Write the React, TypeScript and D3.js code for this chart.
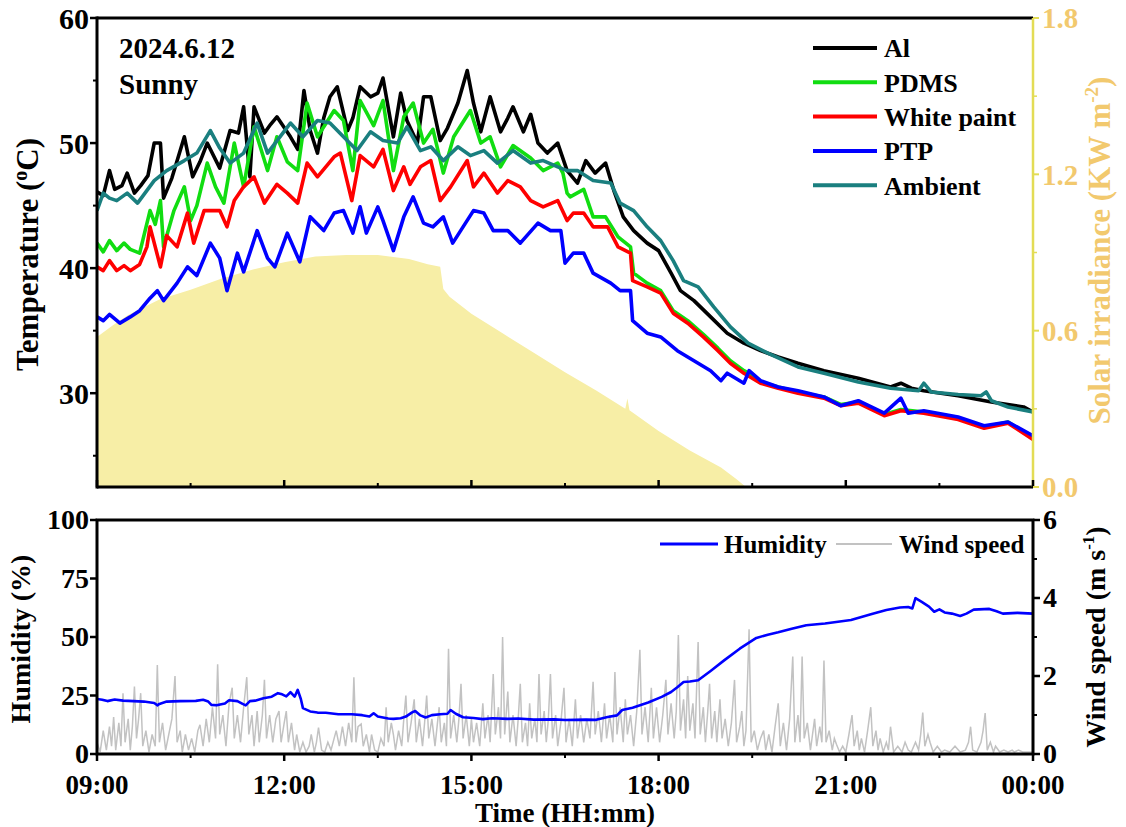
import React from 'react';
import * as d3 from 'd3';

// ---------- data (time = minutes after 09:00) ----------
const tickLabels = ['09:00', '12:00', '15:00', '18:00', '21:00', '00:00'];
const tickMinutes = [0, 180, 360, 540, 720, 900];
const minorMinutes = [90, 270, 450, 630, 810];
const tempTicks = [30, 40, 50, 60];
const tempMinor = [25, 35, 45, 55];
const solarTicks = [0, 0.6, 1.2, 1.8];
const solarMinor = [0.3, 0.9, 1.5];
const humTicks = [0, 25, 50, 75, 100];
const windTicks = [0, 2, 4, 6];
const windMinor = [1, 3, 5];

const seriesNames = ['Al', 'PDMS', 'White paint', 'PTP', 'Ambient'];
const seriesColors = ['#000000', '#11dd11', '#ff0000', '#0000ff', '#1a7f7f'];

const al: [number, number][] = [
  [0, 46.1], [6, 45.8], [12, 47.8], [17, 46.3], [24, 46.6], [29, 47.6], [36, 46.0], [42, 46.6], [49, 47.4],
  [55, 50.0], [61, 50.0], [64, 45.6], [72, 47.2], [84, 50.5], [92, 47.3], [99, 48.5], [106, 50.0], [118, 48.0],
  [128, 51.0], [136, 50.8], [141, 52.9], [147, 47.3], [151, 52.9], [161, 50.8], [167, 51.5], [173, 52.1],
  [186, 50.5], [193, 49.5], [199, 54.2], [205, 51.0], [212, 49.2], [218, 52.0], [224, 53.7], [231, 54.5],
  [241, 51.0], [246, 52.0], [253, 54.5], [263, 53.7], [270, 54.0], [275, 55.2], [285, 50.5], [292, 54.0],
  [298, 51.8], [308, 50.0], [314, 53.7], [321, 53.7], [330, 50.2], [337, 51.2], [347, 53.2], [356, 55.8],
  [362, 53.2], [369, 50.9], [378, 53.7], [388, 50.9], [395, 52.0], [400, 52.9], [410, 50.9], [417, 52.3],
  [424, 50.0], [433, 49.2], [443, 50.0], [452, 47.8], [462, 46.8], [470, 48.6], [479, 47.6], [489, 48.4],
  [497, 46.2], [506, 44.1], [516, 43.0], [529, 42.0], [540, 41.4], [552, 39.6], [561, 38.2], [574, 37.4],
  [590, 36.1], [606, 34.8], [622, 34.0], [638, 33.4], [655, 32.9], [674, 32.4], [699, 31.8], [732, 31.2],
  [763, 30.5], [773, 30.8], [783, 30.4], [795, 30.2], [828, 29.8], [860, 29.3], [891, 28.9], [900, 28.5],
];

const pdms: [number, number][] = [
  [0, 42.0], [6, 41.3], [12, 42.2], [19, 41.4], [26, 42.0], [32, 41.5], [41, 41.2], [51, 44.6], [56, 43.5],
  [61, 45.4], [64, 41.7], [74, 44.6], [84, 46.5], [90, 43.8], [96, 45.0], [106, 48.4], [114, 46.5],
  [122, 45.2], [132, 50.0], [141, 46.5], [151, 51.3], [164, 47.8], [173, 50.5], [183, 48.5], [193, 47.8],
  [202, 53.2], [212, 50.5], [228, 52.6], [237, 51.8], [246, 47.8], [253, 53.4], [266, 51.4], [275, 53.4],
  [285, 47.8], [295, 52.1], [304, 53.2], [314, 50.0], [323, 51.1], [333, 47.6], [343, 50.5], [359, 52.6],
  [369, 50.0], [378, 50.5], [388, 48.1], [400, 49.8], [417, 48.8], [429, 47.8], [443, 48.4], [448, 47.6],
  [452, 46.0], [455, 45.7], [468, 46.3], [477, 44.1], [489, 44.1], [501, 42.5], [513, 41.7], [516, 39.6],
  [529, 38.8], [542, 38.2], [554, 36.6], [568, 35.8], [583, 34.7], [597, 33.6], [609, 32.6], [622, 31.8],
  [629, 31.5], [638, 30.9], [655, 30.5], [674, 30.1], [699, 29.7], [715, 29.1], [732, 29.3], [757, 28.3],
  [773, 28.7], [795, 28.5], [828, 28.0], [853, 27.3], [876, 27.7], [900, 26.4],
];

const whitePaint: [number, number][] = [
  [0, 40.1], [6, 39.8], [12, 40.6], [19, 39.8], [26, 40.2], [32, 39.8], [41, 40.3], [48, 41.7], [51, 43.3],
  [61, 40.1], [67, 42.6], [77, 41.7], [87, 44.4], [93, 42.0], [103, 44.6], [118, 44.6], [125, 43.3],
  [132, 45.4], [141, 46.5], [151, 47.3], [161, 45.2], [173, 46.7], [183, 46.0], [193, 45.2], [202, 48.4],
  [212, 47.3], [228, 48.9], [234, 49.2], [245, 45.4], [253, 49.0], [266, 48.1], [275, 49.5], [285, 46.2],
  [295, 48.1], [301, 46.7], [311, 48.1], [321, 48.6], [330, 45.4], [340, 46.5], [356, 48.6], [362, 46.5],
  [372, 47.6], [385, 46.0], [395, 47.0], [407, 46.5], [417, 45.4], [429, 44.9], [443, 45.4], [452, 43.8],
  [458, 44.4], [468, 44.4], [477, 43.3], [491, 43.3], [501, 41.7], [513, 41.2], [515, 39.0], [529, 38.5],
  [542, 38.0], [554, 36.4], [568, 35.6], [583, 34.5], [597, 33.4], [609, 32.4], [622, 31.6], [638, 30.8],
  [655, 30.4], [674, 30.0], [699, 29.6], [715, 29.0], [732, 29.2], [757, 28.2], [773, 28.6], [795, 28.4],
  [828, 27.9], [853, 27.2], [876, 27.6], [900, 26.3],
];

const ptp: [number, number][] = [
  [0, 36.1], [6, 35.8], [12, 36.3], [22, 35.6], [32, 36.1], [41, 36.6], [51, 37.6], [58, 38.2], [64, 37.4],
  [77, 38.8], [87, 40.1], [96, 39.4], [109, 42.0], [118, 40.8], [125, 38.2], [135, 41.2], [141, 39.7],
  [154, 43.0], [164, 40.8], [171, 40.1], [183, 42.8], [195, 40.5], [205, 44.1], [218, 43.0], [228, 44.4],
  [237, 44.6], [246, 42.8], [253, 44.9], [259, 42.8], [270, 44.9], [275, 43.8], [285, 41.4], [295, 44.1],
  [304, 45.7], [314, 43.6], [323, 43.3], [333, 44.1], [342, 42.0], [352, 43.3], [362, 44.6], [372, 44.4],
  [381, 43.0], [395, 43.0], [407, 42.0], [424, 43.6], [436, 43.0], [446, 43.0], [450, 40.4], [458, 41.2],
  [468, 41.2], [477, 39.6], [494, 38.8], [503, 38.2], [513, 38.2], [515, 35.8], [529, 34.8], [542, 34.5],
  [558, 33.4], [574, 32.6], [590, 31.8], [600, 31.0], [606, 31.6], [622, 30.8], [627, 31.8], [638, 31.0],
  [655, 30.5], [674, 30.2], [699, 29.7], [715, 29.0], [732, 29.4], [757, 28.4], [773, 29.6], [780, 28.4],
  [795, 28.6], [828, 28.1], [853, 27.4], [876, 27.7], [900, 26.6],
];

const ambient: [number, number][] = [
  [0, 44.6], [6, 46.0], [12, 45.6], [19, 45.4], [29, 46.0], [39, 45.2], [55, 47.0], [67, 47.8], [84, 48.6],
  [96, 49.2], [109, 51.0], [118, 49.6], [128, 48.4], [141, 49.2], [154, 51.6], [164, 49.2], [186, 51.6],
  [198, 50.5], [212, 51.8], [224, 51.6], [237, 50.5], [250, 49.4], [263, 50.9], [275, 50.2], [289, 50.0],
  [298, 51.3], [311, 49.4], [321, 49.7], [333, 48.6], [347, 49.7], [359, 49.0], [372, 49.4], [385, 48.4],
  [400, 49.4], [417, 48.4], [429, 48.6], [443, 48.1], [452, 47.8], [462, 47.8], [477, 47.0], [494, 46.8],
  [503, 45.2], [516, 44.6], [529, 43.3], [542, 42.2], [554, 40.6], [564, 39.0], [578, 38.5], [593, 36.9],
  [609, 35.3], [626, 34.0], [645, 33.2], [674, 32.1], [699, 31.6], [732, 30.9], [763, 30.4], [790, 30.2],
  [795, 30.8], [802, 30.1], [828, 29.9], [850, 29.8], [855, 30.1], [860, 29.4], [876, 28.9], [900, 28.5],
];

const solar: [number, number][] = [
  [0, 0.576], [15, 0.62], [30, 0.66], [45, 0.69], [60, 0.72], [90, 0.757], [120, 0.8], [150, 0.835],
  [180, 0.863], [210, 0.885], [240, 0.89], [270, 0.89], [300, 0.875], [318, 0.855], [330, 0.845],
  [333, 0.76], [339, 0.73], [360, 0.665], [390, 0.59], [420, 0.515], [450, 0.44], [480, 0.37],
  [508, 0.3], [510, 0.34], [512, 0.295], [540, 0.215], [570, 0.14], [600, 0.075], [615, 0.03], [624, 0.0],
  [900, 0.0],
];

const humidity: [number, number][] = [
  [0, 23.5], [5, 23.2], [10, 22.6], [17, 23.3], [25, 22.8], [35, 22.6], [45, 22.4], [55, 21.8], [58, 20.8],
  [60, 21.4], [67, 22.4], [80, 22.6], [95, 22.7], [102, 23.2], [107, 22.4], [110, 21.0], [115, 20.8],
  [123, 21.6], [127, 23.0], [135, 22.6], [140, 21.4], [143, 20.8], [147, 22.6], [152, 22.8], [160, 23.8],
  [168, 24.5], [174, 26.0], [178, 25.5], [182, 24.6], [186, 26.4], [190, 24.5], [193, 27.4], [196, 23.5],
  [198, 19.6], [205, 18.2], [212, 17.7], [220, 17.6], [232, 17.0], [245, 17.0], [255, 16.6], [262, 16.0],
  [266, 17.4], [270, 16.0], [280, 15.2], [285, 15.0], [292, 15.3], [297, 16.0], [303, 17.8], [306, 18.4],
  [311, 16.5], [316, 15.6], [322, 16.6], [330, 17.0], [337, 17.2], [340, 18.8], [345, 17.2], [352, 15.7],
  [362, 15.4], [371, 14.9], [380, 15.3], [395, 15.0], [405, 15.2], [420, 14.7], [440, 14.8], [450, 14.5],
  [470, 14.7], [480, 14.6], [491, 15.8], [500, 16.5], [505, 18.8], [515, 19.8], [530, 22.0], [543, 24.4],
  [552, 26.5], [558, 28.5], [564, 30.8], [570, 31.0], [578, 31.5], [590, 35.5], [603, 40.0], [618, 45.0],
  [634, 49.6], [645, 51.0], [655, 52.0], [668, 53.5], [682, 55.0], [700, 55.8], [725, 57.3], [745, 59.8],
  [759, 61.5], [772, 62.6], [780, 62.8], [784, 62.2], [787, 66.6], [793, 65.0], [800, 63.0], [805, 60.8],
  [810, 61.8], [815, 60.5], [822, 60.0], [830, 59.0], [836, 60.0], [843, 61.7], [858, 62.0], [865, 61.0],
  [871, 60.0], [885, 60.3], [900, 60.0],
];

const windSpeed: [number, number][] = [
  [0, 0.3], [3, 0.05], [6, 0.6], [9, 0.1], [12, 0.7], [14, 0.2], [16, 0.95], [18, 0.1], [21, 0.8], [23, 0.2],
  [25, 1.56], [27, 0.3], [30, 0.9], [32, 0.1], [34, 0.7], [36, 1.73], [38, 0.4], [40, 0.9], [42, 1.56],
  [44, 0.2], [47, 0.6], [50, 0.05], [53, 0.5], [56, 0.2], [58, 2.28], [60, 0.3], [63, 0.8], [66, 0.1],
  [69, 0.5], [72, 0.9], [75, 2.0], [77, 0.3], [80, 0.6], [82, 0.05], [85, 0.5], [88, 0.1], [91, 0.4],
  [94, 0.05], [97, 0.6], [99, 0.75], [102, 0.2], [105, 0.9], [108, 0.3], [111, 1.2], [114, 0.4], [116, 2.3],
  [118, 0.5], [121, 1.0], [124, 0.2], [127, 1.3], [130, 1.7], [132, 0.4], [135, 1.0], [138, 0.3], [141, 1.2],
  [144, 1.97], [146, 0.5], [149, 1.0], [151, 0.2], [154, 1.1], [156, 0.3], [159, 1.0], [161, 1.9], [163, 0.4],
  [166, 1.0], [169, 0.3], [172, 0.9], [175, 1.1], [177, 0.3], [180, 0.8], [182, 1.1], [184, 0.3], [187, 0.8],
  [190, 0.1], [192, 0.5], [195, 0.05], [198, 0.3], [201, 0.05], [204, 0.2], [206, 0.5], [209, 0.05],
  [211, 0.3], [213, 0.68], [216, 0.1], [219, 0.05], [222, 0.3], [225, 0.1], [228, 0.4], [230, 0.6],
  [233, 0.2], [236, 0.7], [239, 0.2], [242, 0.8], [245, 0.3], [247, 1.97], [249, 0.3], [251, 0.7],
  [254, 0.77], [256, 0.2], [259, 0.5], [262, 0.05], [264, 0.5], [267, 0.1], [270, 0.05], [273, 0.4],
  [276, 0.2], [278, 1.2], [280, 0.3], [283, 0.8], [285, 0.5], [287, 0.1], [290, 0.6], [293, 0.2], [295, 0.9],
  [297, 1.5], [299, 0.3], [302, 0.8], [305, 1.4], [307, 0.3], [310, 0.9], [313, 0.2], [315, 0.8], [317, 1.5],
  [319, 0.4], [322, 0.9], [325, 0.2], [327, 0.7], [329, 1.2], [331, 0.3], [334, 0.8], [336, 0.2], [338, 2.7],
  [340, 0.4], [343, 1.0], [346, 0.3], [348, 0.9], [350, 1.8], [352, 0.4], [355, 1.0], [358, 0.2], [360, 0.9],
  [362, 0.3], [365, 0.8], [368, 0.2], [371, 1.3], [373, 0.4], [376, 1.0], [378, 0.3], [381, 2.05], [383, 0.5],
  [386, 1.2], [388, 0.4], [390, 3.0], [392, 0.5], [395, 1.6], [397, 0.3], [400, 1.0], [403, 0.2], [405, 0.9],
  [407, 1.8], [409, 0.3], [412, 0.8], [414, 0.2], [416, 1.3], [418, 0.4], [421, 0.9], [423, 0.3], [425, 2.05],
  [427, 0.5], [430, 1.1], [432, 0.3], [434, 0.9], [436, 2.05], [438, 0.4], [441, 1.0], [443, 0.2], [446, 0.8],
  [449, 1.7], [451, 0.3], [454, 0.9], [457, 0.2], [460, 1.4], [462, 0.4], [465, 1.0], [468, 0.3], [471, 0.9],
  [474, 0.4], [477, 1.85], [479, 0.5], [482, 1.1], [485, 0.3], [488, 1.3], [490, 0.4], [493, 1.0], [496, 0.3],
  [498, 2.1], [500, 0.5], [503, 1.2], [506, 0.3], [508, 1.4], [510, 0.5], [513, 1.0], [516, 0.2], [519, 1.1],
  [522, 2.67], [524, 0.5], [527, 1.2], [530, 0.3], [533, 1.7], [535, 0.4], [538, 1.2], [541, 0.3], [544, 1.0],
  [547, 1.9], [549, 0.5], [552, 1.3], [555, 0.4], [557, 1.1], [559, 3.05], [561, 0.6], [564, 1.4], [566, 0.4],
  [568, 2.0], [570, 0.6], [573, 1.3], [575, 0.4], [578, 2.87], [580, 0.5], [583, 1.2], [585, 0.3], [587, 1.0],
  [589, 1.8], [591, 0.4], [594, 1.1], [596, 0.3], [599, 1.4], [601, 0.4], [604, 0.9], [607, 0.2], [610, 0.8],
  [613, 1.9], [615, 0.3], [618, 0.7], [620, 1.1], [622, 0.2], [624, 0.6], [627, 3.2], [629, 0.3], [632, 0.6],
  [635, 0.1], [638, 0.4], [641, 0.6], [643, 0.1], [646, 0.5], [649, 0.05], [652, 0.7], [655, 1.3], [657, 0.2],
  [660, 0.8], [663, 0.1], [666, 0.9], [669, 2.5], [671, 0.3], [674, 1.0], [676, 0.3], [678, 2.5], [680, 0.4],
  [683, 0.8], [686, 0.1], [688, 0.5], [690, 0.9], [692, 0.2], [695, 0.7], [697, 0.3], [699, 2.4], [701, 0.3],
  [704, 0.6], [707, 0.1], [709, 0.4], [711, 0.25], [714, 0.05], [717, 0.2], [720, 0.05], [723, 0.5],
  [726, 1.0], [728, 0.2], [731, 0.6], [733, 0.1], [735, 0.4], [738, 0.05], [741, 0.6], [744, 1.2], [746, 0.2],
  [749, 0.6], [751, 0.1], [753, 0.4], [756, 0.05], [759, 0.3], [761, 0.1], [763, 0.7], [766, 0.05],
  [770, 0.2], [774, 0.05], [777, 0.3], [780, 0.1], [783, 0.05], [787, 0.3], [790, 0.1], [792, 0.5],
  [794, 1.06], [796, 0.2], [799, 0.5], [801, 0.3], [804, 0.05], [808, 0.2], [812, 0.05], [815, 0.1],
  [820, 0.05], [825, 0.2], [830, 0.05], [835, 0.1], [838, 0.3], [840, 0.7], [842, 0.1], [846, 0.05],
  [850, 0.3], [852, 0.6], [854, 1.05], [856, 0.1], [859, 0.3], [862, 0.05], [864, 0.2], [868, 0.05],
  [872, 0.1], [876, 0.05], [880, 0.1], [882, 0.05], [886, 0.1], [890, 0.05], [895, 0.05], [900, 0.05],
];

const tempSeries = [al, pdms, whitePaint, ptp, ambient];

// ---------- layout ----------
const W = 1126;
const H = 827;
const L = 97;
const R = 1033;
const T1 = 18;
const B1 = 487;
const T2 = 520;
const B2 = 754;
const FONT = '"Liberation Serif", "Times New Roman", serif';
const SOLAR_AXIS = '#e3dc55';
const SOLAR_TEXT = '#f2c96e';
const SOLAR_FILL = '#f7eea6';

export default function App() {
  const x = d3.scaleLinear().domain([0, 900]).range([L, R]);
  const yT = d3.scaleLinear().domain([22.5, 60]).range([B1, T1]);
  const yS = d3.scaleLinear().domain([0, 1.8]).range([B1, T1]);
  const yH = d3.scaleLinear().domain([0, 100]).range([B2, T2]);
  const yW = d3.scaleLinear().domain([0, 6]).range([B2, T2]);

  const tLine = d3.line<[number, number]>().x((d) => x(d[0])).y((d) => yT(d[1]));
  const sArea = d3
    .area<[number, number]>()
    .x((d) => x(d[0]))
    .y0(B1)
    .y1((d) => yS(d[1]));
  const hLine = d3.line<[number, number]>().x((d) => x(d[0])).y((d) => yH(d[1]));
  const wLine = d3.line<[number, number]>().x((d) => x(d[0])).y((d) => yW(d[1]));

  const bold = { fontFamily: FONT, fontWeight: 700 } as const;

  return (
    <svg
      width={W}
      height={H}
      style={{ position: 'absolute', left: 0, top: 0, background: '#fff' }}
    >
      <defs>
        <clipPath id="clipTop">
          <rect x={L} y={T1} width={R - L} height={B1 - T1} />
        </clipPath>
        <clipPath id="clipBot">
          <rect x={L} y={T2} width={R - L} height={B2 - T2} />
        </clipPath>
      </defs>

      {/* ---------- top panel ---------- */}
      <g clipPath="url(#clipTop)">
        <path d={sArea(solar) || ''} fill={SOLAR_FILL} />
        {tempSeries.map((s, i) => (
          <path
            key={seriesNames[i]}
            d={tLine(s) || ''}
            fill="none"
            stroke={seriesColors[i]}
            strokeWidth={3.6}
            strokeLinejoin="round"
          />
        ))}
      </g>

      {/* frame */}
      <line x1={L} y1={T1} x2={R} y2={T1} stroke="#000" strokeWidth={3} />
      <line x1={L} y1={B1} x2={R} y2={B1} stroke="#000" strokeWidth={3} />
      <line x1={L} y1={T1 - 1.5} x2={L} y2={B1 + 1.5} stroke="#000" strokeWidth={3} />
      <line x1={R} y1={T1} x2={R} y2={B1} stroke={SOLAR_AXIS} strokeWidth={2.5} />

      {/* left ticks */}
      {tempTicks.map((t) => (
        <g key={'lt' + t}>
          <line x1={L - 7} x2={L} y1={yT(t)} y2={yT(t)} stroke="#000" strokeWidth={2.5} />
          <text x={L - 8} y={yT(t)} dy="0.36em" textAnchor="end" fontSize={30} {...bold}>
            {t}
          </text>
        </g>
      ))}
      {tempMinor.map((t) => (
        <line key={'lm' + t} x1={L - 4} x2={L} y1={yT(t)} y2={yT(t)} stroke="#000" strokeWidth={2} />
      ))}
      {/* bottom ticks (inside) */}
      {tickMinutes.map((m) => (
        <line key={'bt' + m} x1={x(m)} x2={x(m)} y1={B1} y2={B1 - 7} stroke="#000" strokeWidth={2.5} />
      ))}
      {minorMinutes.map((m) => (
        <line key={'bm' + m} x1={x(m)} x2={x(m)} y1={B1} y2={B1 - 4} stroke="#000" strokeWidth={2} />
      ))}
      {/* right solar ticks */}
      {solarTicks.map((t) => (
        <g key={'rt' + t}>
          <line x1={R} x2={R + 6} y1={yS(t)} y2={yS(t)} stroke={SOLAR_AXIS} strokeWidth={2} />
          <text x={R + 9} y={yS(t)} dy="0.36em" fontSize={29} fill={SOLAR_TEXT} {...bold}>
            {t.toFixed(1)}
          </text>
        </g>
      ))}
      {solarMinor.map((t) => (
        <line key={'rm' + t} x1={R} x2={R + 4} y1={yS(t)} y2={yS(t)} stroke={SOLAR_AXIS} strokeWidth={1.5} />
      ))}

      {/* axis titles top */}
      <text
        transform={`translate(38,${(T1 + B1) / 2 + 2}) rotate(-90)`}
        textAnchor="middle"
        fontSize={31}
        {...bold}
      >
        Temperature (<tspan fontSize={20} dy={-11}>o</tspan>
        <tspan dy={11}>C)</tspan>
      </text>
      <text
        transform={`translate(1110,${(T1 + B1) / 2 - 2}) rotate(-90)`}
        textAnchor="middle"
        fontSize={31}
        fill={SOLAR_TEXT}
        {...bold}
      >
        Solar irradiance (KW m<tspan fontSize={19} dy={-12}>-2</tspan>
        <tspan dy={12}>)</tspan>
      </text>

      {/* annotation */}
      <text x={119} y={48} dy="0.36em" fontSize={29} {...bold}>
        2024.6.12
      </text>
      <text x={119} y={84} dy="0.36em" fontSize={29} {...bold}>
        Sunny
      </text>

      {/* legend top */}
      {seriesNames.map((n, i) => {
        const ly = 48 + i * 34.3;
        return (
          <g key={'lg' + n}>
            <line x1={813} x2={877} y1={ly} y2={ly} stroke={seriesColors[i]} strokeWidth={4} />
            <text x={884} y={ly} dy="0.36em" fontSize={26} {...bold}>
              {n}
            </text>
          </g>
        );
      })}

      {/* ---------- bottom panel ---------- */}
      <g clipPath="url(#clipBot)">
        <path d={wLine(windSpeed) || ''} fill="none" stroke="#c2c2c2" strokeWidth={1.5} />
        <path d={hLine(humidity) || ''} fill="none" stroke="#0000ff" strokeWidth={2.6} strokeLinejoin="round" />
      </g>
      <rect x={L} y={T2} width={R - L} height={B2 - T2} fill="none" stroke="#000" strokeWidth={3} />

      {humTicks.map((t) => (
        <g key={'ht' + t}>
          <line x1={L - 7} x2={L} y1={yH(t)} y2={yH(t)} stroke="#000" strokeWidth={2.5} />
          <text x={L - 8} y={yH(t) - 1} dy="0.36em" textAnchor="end" fontSize={28} {...bold}>
            {t}
          </text>
        </g>
      ))}
      {windTicks.map((t) => (
        <g key={'wt' + t}>
          <line x1={R} x2={R + 7} y1={yW(t)} y2={yW(t)} stroke="#000" strokeWidth={2.5} />
          <text x={R + 10} y={yW(t) - 1} dy="0.36em" fontSize={28} {...bold}>
            {t}
          </text>
        </g>
      ))}
      {windMinor.map((t) => (
        <line key={'wm' + t} x1={R} x2={R + 4} y1={yW(t)} y2={yW(t)} stroke="#000" strokeWidth={2} />
      ))}
      {tickMinutes.map((m, i) => (
        <g key={'xt' + m}>
          <line x1={x(m)} x2={x(m)} y1={B2} y2={B2 + 7} stroke="#000" strokeWidth={2.5} />
          <text x={x(m)} y={B2 + 30} dy="0.36em" textAnchor="middle" fontSize={27} {...bold}>
            {tickLabels[i]}
          </text>
        </g>
      ))}
      {minorMinutes.map((m) => (
        <line key={'xm' + m} x1={x(m)} x2={x(m)} y1={B2} y2={B2 + 4} stroke="#000" strokeWidth={2} />
      ))}

      <text x={(L + R) / 2} y={812} dy="0.36em" textAnchor="middle" fontSize={27} {...bold}>
        Time (HH:mm)
      </text>
      <text
        transform={`translate(30,${(T2 + B2) / 2 + 2}) rotate(-90)`}
        textAnchor="middle"
        fontSize={28}
        {...bold}
      >
        Humidity (%)
      </text>
      <text
        transform={`translate(1105,${(T2 + B2) / 2}) rotate(-90)`}
        textAnchor="middle"
        fontSize={28}
        {...bold}
      >
        Wind speed (m s<tspan fontSize={17} dy={-11}>-1</tspan>
        <tspan dy={11}>)</tspan>
      </text>

      {/* legend bottom */}
      <line x1={660} x2={718} y1={544} y2={544} stroke="#0000ff" strokeWidth={3} />
      <text x={724} y={544} dy="0.36em" fontSize={25} {...bold}>
        Humidity
      </text>
      <line x1={836} x2={892} y1={544} y2={544} stroke="#c2c2c2" strokeWidth={2} />
      <text x={899} y={544} dy="0.36em" fontSize={25} {...bold}>
        Wind speed
      </text>
    </svg>
  );
}
